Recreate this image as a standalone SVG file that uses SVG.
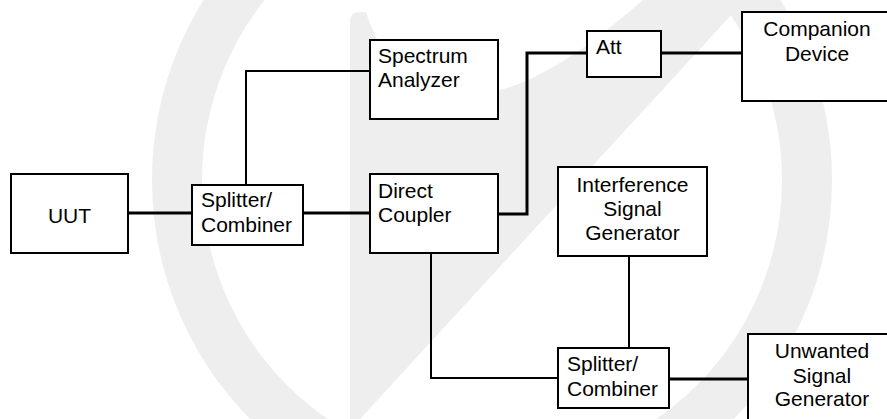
<svg xmlns="http://www.w3.org/2000/svg" width="887" height="419" viewBox="0 0 887 419">
<style>
.box{fill:#fff;stroke:#000;stroke-width:2}
.t{font-family:"Liberation Sans",Arial,sans-serif;font-size:21px;fill:#000}
.c{text-anchor:middle}
.thick{fill:none;stroke:#000;stroke-width:3}
.thin{fill:none;stroke:#000;stroke-width:2}
.wm{fill:none;stroke:#eeeeee;stroke-width:50}
</style>
<rect width="887" height="419" fill="#fff"/>
<g id="watermark">
<circle class="wm" cx="492" cy="180" r="315"/>
<path d="M350,419 L350,22 Q350,12 360,12 L366,12 C378,50 405,92 463,95 C510,95 560,72 643,0 L745,0 L360,419 Z" fill="#eeeeee"/>
</g>
<g id="connectors">
<line class="thick" x1="129" y1="213" x2="192" y2="213"/>
<line class="thick" x1="303" y1="213" x2="370" y2="213"/>
<polyline class="thin" points="246,185 246,71 370,71"/>
<polyline class="thick" points="498,214 527,214 527,53 587,53"/>
<line class="thick" x1="661" y1="53" x2="742" y2="53"/>
<line class="thin" x1="629" y1="256" x2="629" y2="348"/>
<polyline class="thin" points="431,253 431,378 558,378"/>
<line class="thick" x1="669" y1="379" x2="748" y2="379"/>
</g>
<g id="uut"><rect class="box" x="11" y="174" width="117" height="79"/><text class="t c" x="69.5" y="223">UUT</text></g>
<g id="splitter1"><rect class="box" x="192" y="185" width="111" height="60"/><text class="t" x="201" y="207">Splitter/</text><text class="t" x="201" y="232">Combiner</text></g>
<g id="spectrum"><rect class="box" x="370" y="40" width="128" height="79"/><text class="t" x="378" y="63">Spectrum</text><text class="t" x="378" y="87">Analyzer</text></g>
<g id="coupler"><rect class="box" x="370" y="174" width="128" height="79"/><text class="t" x="378" y="198">Direct</text><text class="t" x="378" y="222">Coupler</text></g>
<g id="att"><rect class="box" x="587" y="31" width="74" height="46"/><text class="t" x="596" y="54">Att</text></g>
<g id="companion"><rect class="box" x="742" y="12" width="152" height="89"/><text class="t c" x="817" y="36">Companion</text><text class="t c" x="817" y="61">Device</text></g>
<g id="interference"><rect class="box" x="558" y="167" width="149" height="89"/><text class="t c" x="632.5" y="192">Interference</text><text class="t c" x="632.5" y="216">Signal</text><text class="t c" x="632.5" y="240">Generator</text></g>
<g id="splitter2"><rect class="box" x="558" y="348" width="111" height="60"/><text class="t" x="567" y="371">Splitter/</text><text class="t" x="567" y="396">Combiner</text></g>
<g id="unwanted"><rect class="box" x="748" y="334" width="148" height="100"/><text class="t c" x="822" y="358">Unwanted</text><text class="t c" x="822" y="383">Signal</text><text class="t c" x="822" y="406">Generator</text></g>
</svg>
